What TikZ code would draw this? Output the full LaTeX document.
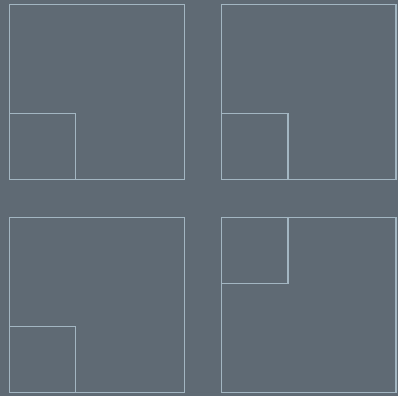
\documentclass[tikz,border=0pt]{standalone}
\definecolor{bg}{HTML}{5F6A74}
\definecolor{ln}{HTML}{A3B6C2}
\begin{document}
\begin{tikzpicture}[x=1bp,y=-1bp,box/.style={draw=ln,line width=1.2bp}]
\fill[bg] (0,0) rectangle (398,396);
\useasboundingbox (0,0) rectangle (398,396);
% big squares
\draw[box] (9.5,4.5) rectangle (184.5,179.5);
\draw[box] (221.5,4.5) rectangle (396,179.5);
\draw[box] (9.5,217.5) rectangle (184.5,392.5);
\draw[box] (221.5,217.5) rectangle (396,392.5);
% small squares
\draw[box] (9.5,113.5) rectangle (75.5,179.5);
\draw[box] (221.5,113.5) rectangle (288,179.5);
\draw[box] (9.5,326.5) rectangle (75.5,392.5);
\draw[box] (221.5,217.5) rectangle (288,283.5);
\end{tikzpicture}
\end{document}
